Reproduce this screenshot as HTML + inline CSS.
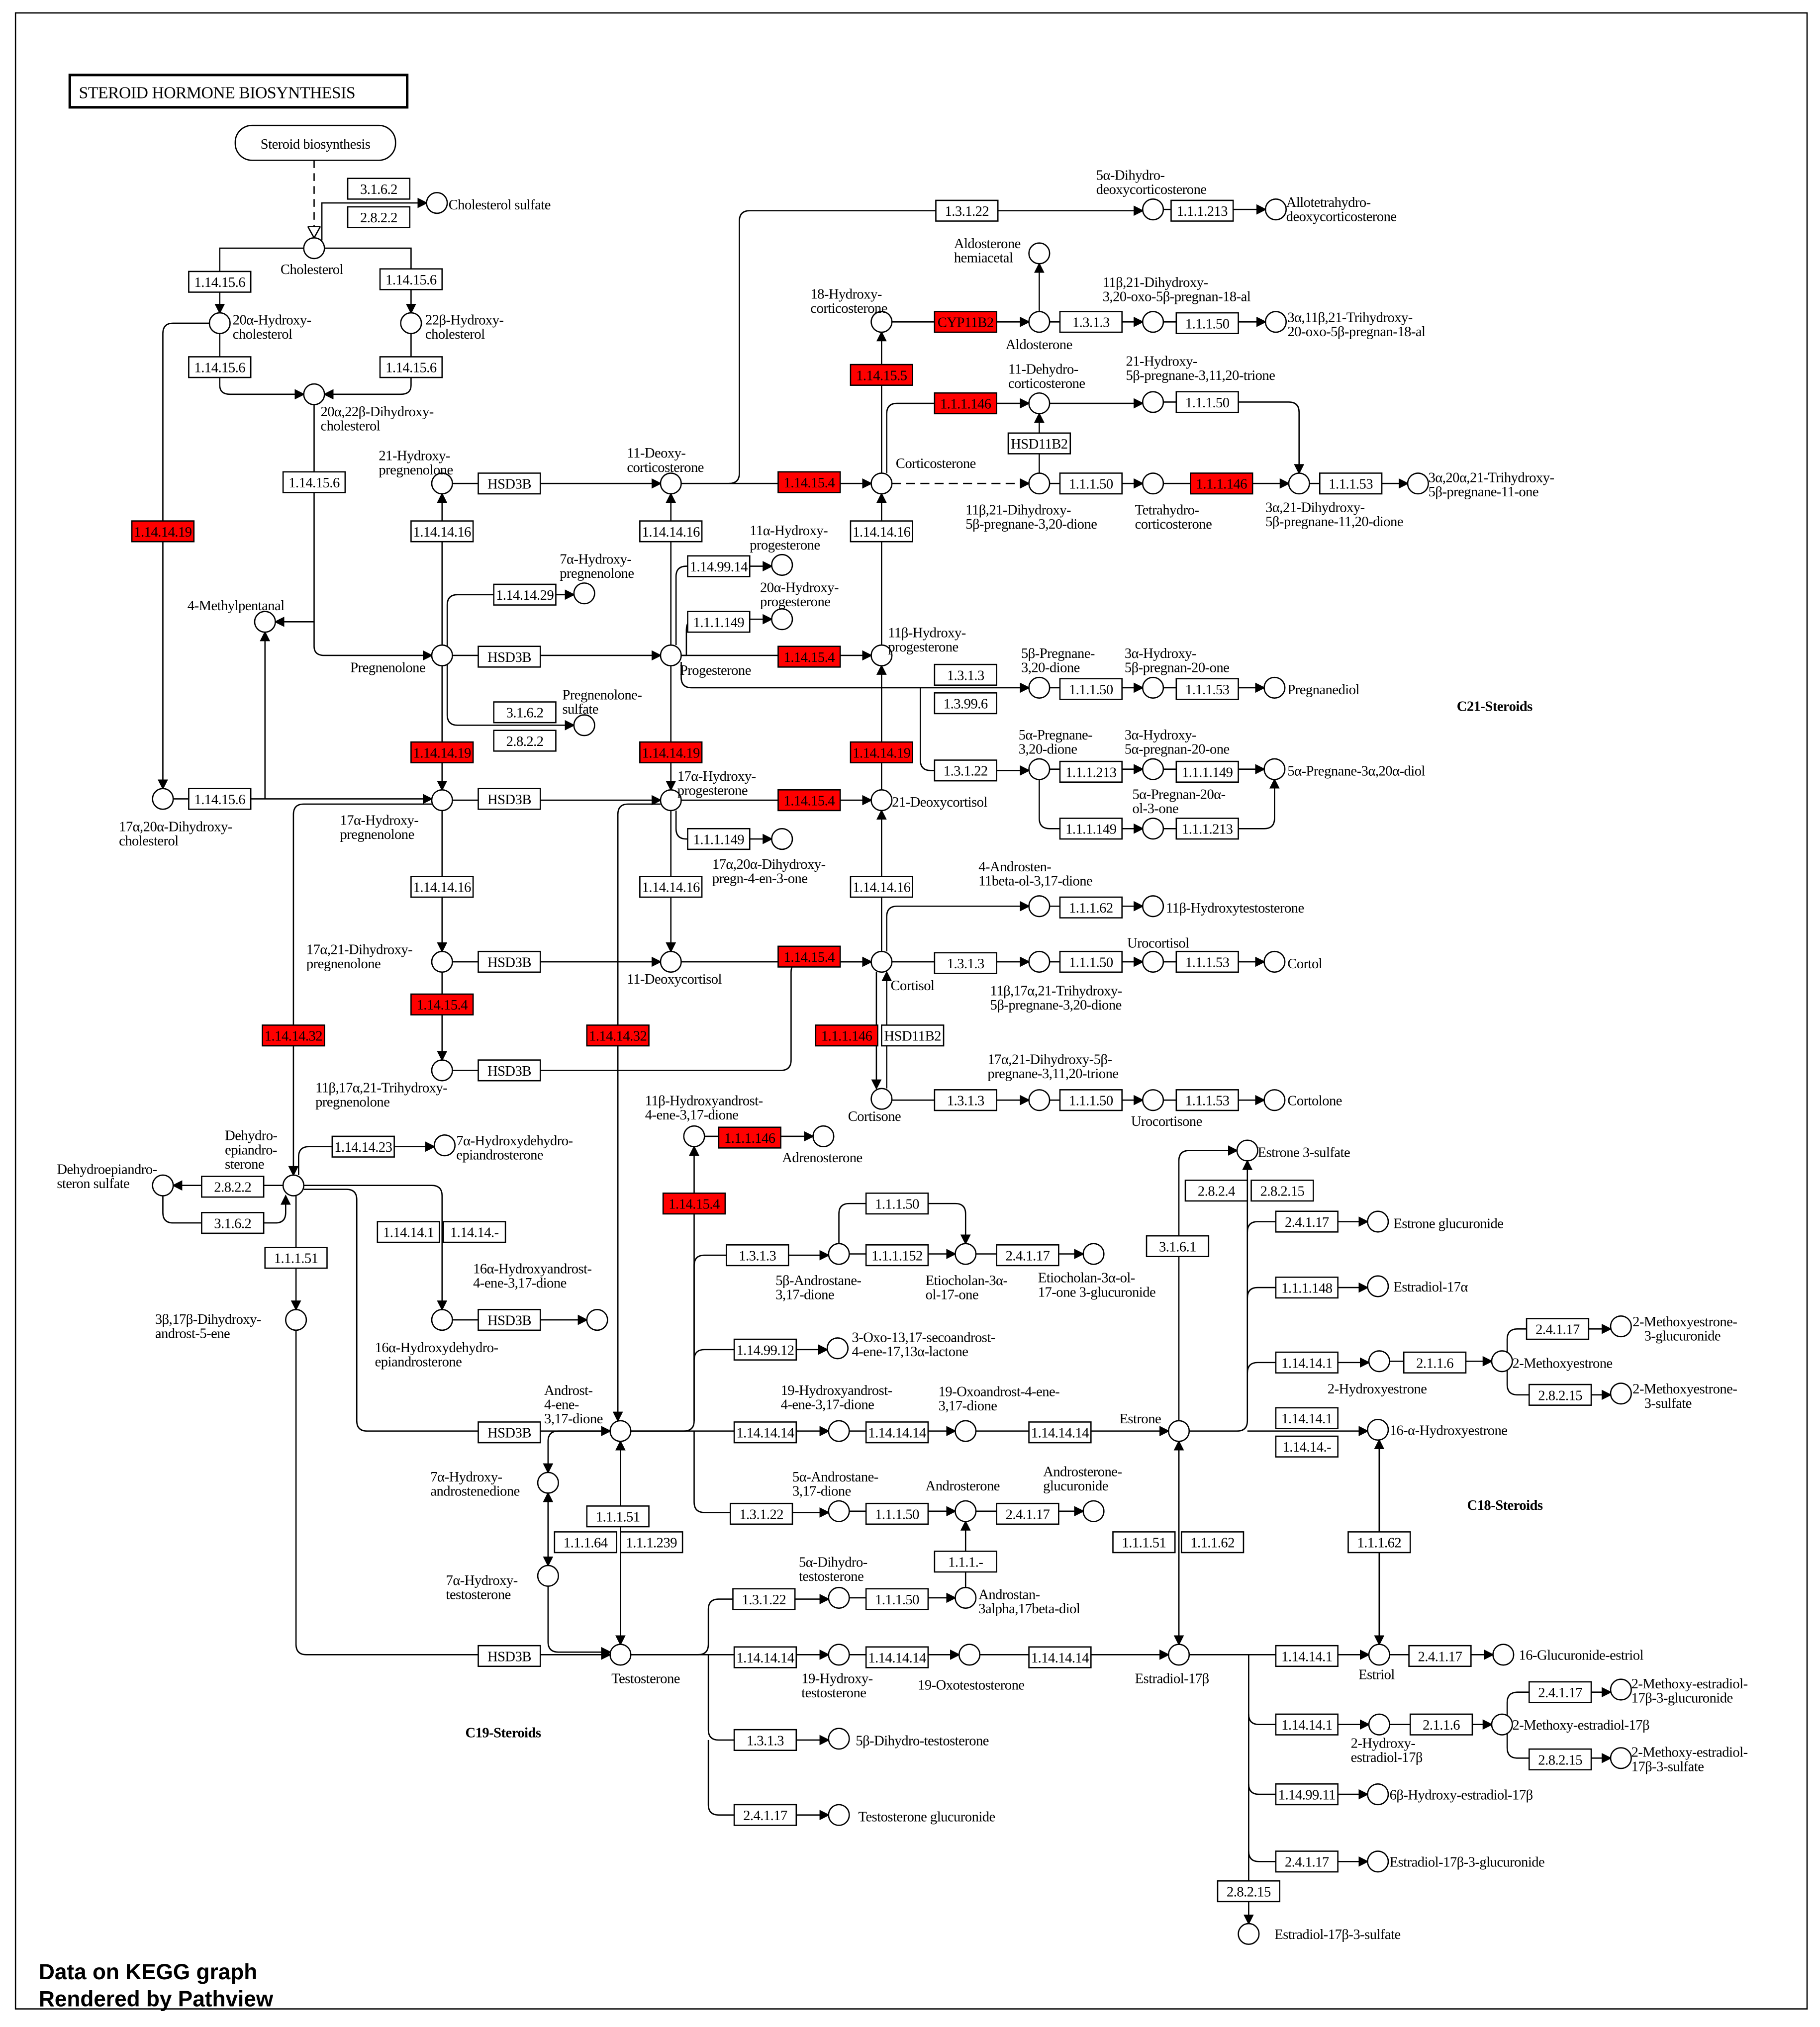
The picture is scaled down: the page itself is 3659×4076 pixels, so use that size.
<!DOCTYPE html>
<html><head><meta charset="utf-8"><style>
html,body{margin:0;padding:0;background:#fff}
svg{display:block}
text{font-family:"Liberation Serif",serif;font-size:11px;fill:#000;letter-spacing:-0.2px}
.bx rect{fill:#fff;stroke:#000;stroke-width:1}
.bx text{text-anchor:middle;font-size:11px}
.rd rect{fill:#f00}
circle{fill:#fff;stroke:#000;stroke-width:1}
path,line{fill:none;stroke:#000;stroke-width:1}
.b{font-weight:bold;font-size:11px}
</style></head><body>
<svg width="3659" height="4076" viewBox="0 0 1408 1568" preserveAspectRatio="none" xmlns="http://www.w3.org/2000/svg">
<defs>
<marker id="a" markerWidth="8" markerHeight="8" refX="7" refY="4" orient="auto" markerUnits="userSpaceOnUse"><path d="M0,0 L8,4 L0,8 z" style="fill:#000;stroke:none"/></marker>
<marker id="h" markerWidth="10" markerHeight="10" refX="9" refY="5" orient="auto" markerUnits="userSpaceOnUse"><path d="M0,0 L9,5 L0,10 z" style="fill:#fff;stroke:#000"/></marker>
</defs>
<rect x="0" y="0" width="1408" height="1568" fill="#fff"/>
<rect x="12" y="10" width="1386" height="1544" fill="none" stroke="#000"/>
<rect x="54" y="58" width="261" height="25" fill="#fff" stroke="#000" stroke-width="2"/>
<text x="61" y="76" style="font-size:13px">STEROID  HORMONE BIOSYNTHESIS</text>
<rect x="182" y="97" width="124" height="27" rx="13" fill="#fff" stroke="#000"/>
<text x="244" y="115" text-anchor="middle">Steroid biosynthesis</text>

<g marker-end="url(#a)">
<path d="M243 124 V184" stroke-dasharray="6,4" marker-end="url(#h)"/>
<path d="M249 186 V157 H330"/>
<path d="M235 192 H170 V242"/>
<path d="M251 192 H318 V242"/>
<path d="M170 258 V298 Q170 305 178 305 H235"/>
<path d="M318 258 V298 Q318 305 310 305 H251"/>
<path d="M243 313 V500 Q243 507 251 507 H334"/>
<path d="M243 481 H213"/>
<path d="M162 250 H134 Q126 250 126 258 V610"/>
<path d="M134 618 H334"/>
<path d="M205 618 V489"/>
<path d="M342 499 V382"/>
<path d="M350 507 H511"/>
<path d="M350 374 H511"/>
<path d="M346 500 V468 Q346 460 354 460 H444"/>
<path d="M346 514 V553 Q346 561 354 561 H444"/>
<path d="M342 515 V611"/>
<path d="M350 619 H511"/>
<path d="M342 627 V736"/>
<path d="M350 744 H511"/>
<path d="M342 752 V820"/>
<path d="M350 828 H604 Q612 828 612 820 V752 Q612 744 620 744 H674"/>
<path d="M519 499 V382"/>
<path d="M527 374 H674"/>
<path d="M564 374 Q572 374 572 366 V171 Q572 163 580 163 H884"/>
<path d="M900 162 H979"/>
<path d="M523 499 V446 Q523 438 531 438 H597"/>
<path d="M527 507 H531 V487 Q531 479 539 479 H597"/>
<path d="M527 507 H674"/>
<path d="M527 512 V524 Q527 532 535 532 H796"/>
<path d="M712 532 V588 Q712 596 720 596 H796"/>
<path d="M519 515 V611"/>
<path d="M527 619 H674"/>
<path d="M523 627 V641 Q523 649 531 649 H597"/>
<path d="M519 627 V736"/>
<path d="M527 744 H674"/>
<path d="M511 622 H486 Q478 622 478 630 V1099"/>
<path d="M334 622 H235 Q227 622 227 630 V909"/>
<path d="M682 366 V257"/>
<path d="M690 249 H796"/>
<path d="M804 241 V204"/>
<path d="M812 249 H884"/>
<path d="M900 249 H979"/>
<path d="M686 366 V320 Q686 312 694 312 H796"/>
<path d="M804 366 V320"/>
<path d="M812 312 H884"/>
<path d="M900 311 H997 Q1005 311 1005 319 V366"/>
<path d="M690 374 H796" stroke-dasharray="7,4"/>
<path d="M812 374 H884"/>
<path d="M900 374 H997"/>
<path d="M1013 374 H1089"/>
<path d="M682 499 V382"/>
<path d="M682 611 V515"/>
<path d="M682 736 V627"/>
<path d="M812 532 H884"/>
<path d="M900 532 H978"/>
<path d="M812 595 H884"/>
<path d="M900 595 H978"/>
<path d="M804 603 V633 Q804 641 812 641 H884"/>
<path d="M900 641 H978 Q986 641 986 633 V603"/>
<path d="M686 736 V709 Q686 701 694 701 H796"/>
<path d="M812 701 H884"/>
<path d="M690 744 H796"/>
<path d="M812 744 H884"/>
<path d="M900 744 H978"/>
<path d="M678 752 V842"/>
<path d="M686 842 V752"/>
<path d="M690 851 H796"/>
<path d="M812 851 H884"/>
<path d="M900 851 H978"/>
<path d="M219 917 H134"/>
<path d="M126 925 V938 Q126 946 134 946 H213 Q221 946 221 938 V925"/>
<path d="M231 909 V895 Q231 887 239 887 H336"/>
<path d="M235 917 H334 Q342 917 342 925 V1013"/>
<path d="M229 925 V1013"/>
<path d="M229 1029 V1272 Q229 1280 237 1280 H472"/>
<path d="M235 920 H268 Q276 920 276 928 V1099 Q276 1107 284 1107 H472"/>
<path d="M350 1021 H454"/>
<path d="M488 1107 H529 Q537 1107 537 1099 V887"/>
<path d="M545 879 H629"/>
<path d="M488 1107 H641"/>
<path d="M537 1099 V979 Q537 971 545 971 H641"/>
<path d="M537 1052 Q537 1044 545 1044 H640"/>
<path d="M537 1107 V1162 Q537 1170 545 1170 H641"/>
<path d="M657 970 H739"/>
<path d="M649 962 V939 Q649 931 657 931 H739 Q747 931 747 939 V962"/>
<path d="M755 970 H838"/>
<path d="M657 1107 H739"/>
<path d="M755 1107 H904"/>
<path d="M657 1169 H739"/>
<path d="M755 1169 H838"/>
<path d="M747 1228 V1177"/>
<path d="M472 1107 H432 Q424 1107 424 1115 V1139"/>
<path d="M424 1155 V1211"/>
<path d="M424 1211 V1155"/>
<path d="M424 1227 V1270 Q424 1278 432 1278 H472"/>
<path d="M480 1115 V1272"/>
<path d="M480 1272 V1115"/>
<path d="M488 1280 H540 Q548 1280 548 1272 V1245 Q548 1237 556 1237 H641"/>
<path d="M488 1280 H641"/>
<path d="M548 1280 V1338 Q548 1346 556 1346 H641"/>
<path d="M548 1346 V1396 Q548 1404 556 1404 H641"/>
<path d="M657 1236 H739"/>
<path d="M657 1280 H742"/>
<path d="M758 1280 H904"/>
<path d="M912 1115 V1272"/>
<path d="M912 1272 V1115"/>
<path d="M912 1099 V898 Q912 890 920 890 H957"/>
<path d="M920 1107 H957 Q965 1107 965 1099 V898"/>
<path d="M965 953 Q965 945 973 945 H1058"/>
<path d="M965 1004 Q965 996 973 996 H1058"/>
<path d="M965 1062 Q965 1054 973 1054 H1059"/>
<path d="M1075 1053 H1154"/>
<path d="M1166 1046 V1036 Q1166 1028 1174 1028 H1246"/>
<path d="M1166 1060 V1071 Q1166 1079 1174 1079 H1246"/>
<path d="M965 1107 H1058"/>
<path d="M1067 1114 V1272"/>
<path d="M1067 1272 V1114"/>
<path d="M920 1280 H1059"/>
<path d="M1075 1280 H1155"/>
<path d="M966 1280 V1488"/>
<path d="M966 1326 Q966 1334 974 1334 H1059"/>
<path d="M966 1380 Q966 1388 974 1388 H1058"/>
<path d="M966 1432 Q966 1440 974 1440 H1058"/>
<path d="M1075 1334 H1154"/>
<path d="M1166 1327 V1317 Q1166 1309 1174 1309 H1246"/>
<path d="M1166 1341 V1352 Q1166 1360 1174 1360 H1246"/>
</g>

<g>
<circle cx="243" cy="192" r="8"/><circle cx="338" cy="157" r="8"/><circle cx="170" cy="250" r="8"/><circle cx="318" cy="250" r="8"/><circle cx="243" cy="305" r="8"/>
<circle cx="205" cy="481" r="8"/><circle cx="342" cy="507" r="8"/><circle cx="342" cy="374" r="8"/><circle cx="519" cy="374" r="8"/><circle cx="682" cy="374" r="8"/>
<circle cx="452" cy="459" r="8"/><circle cx="605" cy="437" r="8"/><circle cx="605" cy="479" r="8"/><circle cx="519" cy="507" r="8"/><circle cx="682" cy="507" r="8"/>
<circle cx="452" cy="561" r="8"/><circle cx="342" cy="619" r="8"/><circle cx="519" cy="619" r="8"/><circle cx="682" cy="619" r="8"/><circle cx="605" cy="649" r="8"/>
<circle cx="126" cy="618" r="8"/><circle cx="342" cy="744" r="8"/><circle cx="519" cy="744" r="8"/><circle cx="682" cy="744" r="8"/><circle cx="342" cy="828" r="8"/>
<circle cx="682" cy="850" r="8"/><circle cx="804" cy="851" r="8"/><circle cx="892" cy="851" r="8"/><circle cx="986" cy="851" r="8"/>
<circle cx="804" cy="744" r="8"/><circle cx="892" cy="744" r="8"/><circle cx="986" cy="744" r="8"/><circle cx="804" cy="701" r="8"/><circle cx="892" cy="701" r="8"/>
<circle cx="892" cy="162" r="8"/><circle cx="987" cy="162" r="8"/><circle cx="804" cy="249" r="8"/><circle cx="892" cy="249" r="8"/><circle cx="987" cy="249" r="8"/>
<circle cx="804" cy="196" r="8"/><circle cx="682" cy="249" r="8"/><circle cx="804" cy="312" r="8"/><circle cx="892" cy="311" r="8"/>
<circle cx="804" cy="374" r="8"/><circle cx="892" cy="374" r="8"/><circle cx="1005" cy="374" r="8"/><circle cx="1097" cy="374" r="8"/>
<circle cx="804" cy="532" r="8"/><circle cx="892" cy="532" r="8"/><circle cx="986" cy="532" r="8"/><circle cx="804" cy="595" r="8"/><circle cx="892" cy="595" r="8"/><circle cx="986" cy="595" r="8"/><circle cx="892" cy="641" r="8"/>
<circle cx="227" cy="917" r="8"/><circle cx="126" cy="917" r="8"/><circle cx="344" cy="886" r="8"/><circle cx="342" cy="1021" r="8"/><circle cx="462" cy="1021" r="8"/><circle cx="229" cy="1021" r="8"/>
<circle cx="537" cy="879" r="8"/><circle cx="637" cy="879" r="8"/><circle cx="480" cy="1107" r="8"/>
<circle cx="649" cy="970" r="8"/><circle cx="747" cy="970" r="8"/><circle cx="846" cy="970" r="8"/><circle cx="648" cy="1043" r="8"/>
<circle cx="649" cy="1107" r="8"/><circle cx="747" cy="1107" r="8"/><circle cx="912" cy="1107" r="8"/>
<circle cx="649" cy="1169" r="8"/><circle cx="747" cy="1169" r="8"/><circle cx="846" cy="1169" r="8"/><circle cx="747" cy="1236" r="8"/>
<circle cx="424" cy="1147" r="8"/><circle cx="424" cy="1219" r="8"/><circle cx="480" cy="1280" r="8"/>
<circle cx="649" cy="1236" r="8"/><circle cx="649" cy="1280" r="8"/><circle cx="750" cy="1280" r="8"/><circle cx="912" cy="1280" r="8"/>
<circle cx="649" cy="1345" r="8"/><circle cx="649" cy="1404" r="8"/>
<circle cx="965" cy="890" r="8"/><circle cx="1066" cy="945" r="8"/><circle cx="1066" cy="995" r="8"/><circle cx="1067" cy="1053" r="8"/><circle cx="1162" cy="1053" r="8"/>
<circle cx="1254" cy="1026" r="8"/><circle cx="1254" cy="1078" r="8"/><circle cx="1066" cy="1106" r="8"/>
<circle cx="1067" cy="1280" r="8"/><circle cx="1163" cy="1280" r="8"/><circle cx="1067" cy="1334" r="8"/><circle cx="1162" cy="1334" r="8"/>
<circle cx="1254" cy="1307" r="8"/><circle cx="1254" cy="1360" r="8"/><circle cx="1066" cy="1388" r="8"/><circle cx="1066" cy="1440" r="8"/><circle cx="966" cy="1496" r="8"/>
</g>

<g class="bx">
<g transform="translate(293,146)"><rect x="-24" y="-8" width="48" height="16"/><text y="4">3.1.6.2</text></g>
<g transform="translate(293,168)"><rect x="-24" y="-8" width="48" height="16"/><text y="4">2.8.2.2</text></g>
<g transform="translate(170,218)"><rect x="-24" y="-8" width="48" height="16"/><text y="4">1.14.15.6</text></g>
<g transform="translate(318,216)"><rect x="-24" y="-8" width="48" height="16"/><text y="4">1.14.15.6</text></g>
<g transform="translate(170,284)"><rect x="-24" y="-8" width="48" height="16"/><text y="4">1.14.15.6</text></g>
<g transform="translate(318,284)"><rect x="-24" y="-8" width="48" height="16"/><text y="4">1.14.15.6</text></g>
<g transform="translate(243,373)"><rect x="-24" y="-8" width="48" height="16"/><text y="4">1.14.15.6</text></g>
<g transform="translate(126,411)" class="rd"><rect x="-24" y="-8" width="48" height="16"/><text y="4">1.14.14.19</text></g>
<g transform="translate(170,618)"><rect x="-24" y="-8" width="48" height="16"/><text y="4">1.14.15.6</text></g>
<g transform="translate(394,374)"><rect x="-24" y="-8" width="48" height="16"/><text y="4">HSD3B</text></g>
<g transform="translate(394,508)"><rect x="-24" y="-8" width="48" height="16"/><text y="4">HSD3B</text></g>
<g transform="translate(394,618)"><rect x="-24" y="-8" width="48" height="16"/><text y="4">HSD3B</text></g>
<g transform="translate(394,744)"><rect x="-24" y="-8" width="48" height="16"/><text y="4">HSD3B</text></g>
<g transform="translate(394,828)"><rect x="-24" y="-8" width="48" height="16"/><text y="4">HSD3B</text></g>
<g transform="translate(626,373)" class="rd"><rect x="-24" y="-8" width="48" height="16"/><text y="4">1.14.15.4</text></g>
<g transform="translate(342,411)"><rect x="-24" y="-8" width="48" height="16"/><text y="4">1.14.14.16</text></g>
<g transform="translate(519,411)"><rect x="-24" y="-8" width="48" height="16"/><text y="4">1.14.14.16</text></g>
<g transform="translate(682,411)"><rect x="-24" y="-8" width="48" height="16"/><text y="4">1.14.14.16</text></g>
<g transform="translate(342,686)"><rect x="-24" y="-8" width="48" height="16"/><text y="4">1.14.14.16</text></g>
<g transform="translate(519,686)"><rect x="-24" y="-8" width="48" height="16"/><text y="4">1.14.14.16</text></g>
<g transform="translate(682,686)"><rect x="-24" y="-8" width="48" height="16"/><text y="4">1.14.14.16</text></g>
<g transform="translate(406,460)"><rect x="-24" y="-8" width="48" height="16"/><text y="4">1.14.14.29</text></g>
<g transform="translate(556,438)"><rect x="-24" y="-8" width="48" height="16"/><text y="4">1.14.99.14</text></g>
<g transform="translate(556,481)"><rect x="-24" y="-8" width="48" height="16"/><text y="4">1.1.1.149</text></g>
<g transform="translate(626,508)" class="rd"><rect x="-24" y="-8" width="48" height="16"/><text y="4">1.14.15.4</text></g>
<g transform="translate(406,551)"><rect x="-24" y="-8" width="48" height="16"/><text y="4">3.1.6.2</text></g>
<g transform="translate(406,573)"><rect x="-24" y="-8" width="48" height="16"/><text y="4">2.8.2.2</text></g>
<g transform="translate(342,582)" class="rd"><rect x="-24" y="-8" width="48" height="16"/><text y="4">1.14.14.19</text></g>
<g transform="translate(519,582)" class="rd"><rect x="-24" y="-8" width="48" height="16"/><text y="4">1.14.14.19</text></g>
<g transform="translate(682,582)" class="rd"><rect x="-24" y="-8" width="48" height="16"/><text y="4">1.14.14.19</text></g>
<g transform="translate(626,619)" class="rd"><rect x="-24" y="-8" width="48" height="16"/><text y="4">1.14.15.4</text></g>
<g transform="translate(556,649)"><rect x="-24" y="-8" width="48" height="16"/><text y="4">1.1.1.149</text></g>
<g transform="translate(626,740)" class="rd"><rect x="-24" y="-8" width="48" height="16"/><text y="4">1.14.15.4</text></g>
<g transform="translate(342,777)" class="rd"><rect x="-24" y="-8" width="48" height="16"/><text y="4">1.14.15.4</text></g>
<g transform="translate(227,801)" class="rd"><rect x="-24" y="-8" width="48" height="16"/><text y="4">1.14.14.32</text></g>
<g transform="translate(478,801)" class="rd"><rect x="-24" y="-8" width="48" height="16"/><text y="4">1.14.14.32</text></g>
<g transform="translate(655,801)" class="rd"><rect x="-24" y="-8" width="48" height="16"/><text y="4">1.1.1.146</text></g>
<g transform="translate(706,801)"><rect x="-24" y="-8" width="48" height="16"/><text y="4">HSD11B2</text></g>
<g transform="translate(747,851)"><rect x="-24" y="-8" width="48" height="16"/><text y="4">1.3.1.3</text></g>
<g transform="translate(844,851)"><rect x="-24" y="-8" width="48" height="16"/><text y="4">1.1.1.50</text></g>
<g transform="translate(934,851)"><rect x="-24" y="-8" width="48" height="16"/><text y="4">1.1.1.53</text></g>
<g transform="translate(747,745)"><rect x="-24" y="-8" width="48" height="16"/><text y="4">1.3.1.3</text></g>
<g transform="translate(844,744)"><rect x="-24" y="-8" width="48" height="16"/><text y="4">1.1.1.50</text></g>
<g transform="translate(934,744)"><rect x="-24" y="-8" width="48" height="16"/><text y="4">1.1.1.53</text></g>
<g transform="translate(844,702)"><rect x="-24" y="-8" width="48" height="16"/><text y="4">1.1.1.62</text></g>
<g transform="translate(748,163)"><rect x="-24" y="-8" width="48" height="16"/><text y="4">1.3.1.22</text></g>
<g transform="translate(930,163)"><rect x="-24" y="-8" width="48" height="16"/><text y="4">1.1.1.213</text></g>
<g transform="translate(747,249)" class="rd"><rect x="-24" y="-8" width="48" height="16"/><text y="4">CYP11B2</text></g>
<g transform="translate(844,249)"><rect x="-24" y="-8" width="48" height="16"/><text y="4">1.3.1.3</text></g>
<g transform="translate(934,250)"><rect x="-24" y="-8" width="48" height="16"/><text y="4">1.1.1.50</text></g>
<g transform="translate(682,290)" class="rd"><rect x="-24" y="-8" width="48" height="16"/><text y="4">1.14.15.5</text></g>
<g transform="translate(747,312)" class="rd"><rect x="-24" y="-8" width="48" height="16"/><text y="4">1.1.1.146</text></g>
<g transform="translate(804,343)"><rect x="-24" y="-8" width="48" height="16"/><text y="4">HSD11B2</text></g>
<g transform="translate(934,311)"><rect x="-24" y="-8" width="48" height="16"/><text y="4">1.1.1.50</text></g>
<g transform="translate(844,374)"><rect x="-24" y="-8" width="48" height="16"/><text y="4">1.1.1.50</text></g>
<g transform="translate(945,374)" class="rd"><rect x="-24" y="-8" width="48" height="16"/><text y="4">1.1.1.146</text></g>
<g transform="translate(1045,374)"><rect x="-24" y="-8" width="48" height="16"/><text y="4">1.1.1.53</text></g>
<g transform="translate(747,522)"><rect x="-24" y="-8" width="48" height="16"/><text y="4">1.3.1.3</text></g>
<g transform="translate(747,544)"><rect x="-24" y="-8" width="48" height="16"/><text y="4">1.3.99.6</text></g>
<g transform="translate(844,533)"><rect x="-24" y="-8" width="48" height="16"/><text y="4">1.1.1.50</text></g>
<g transform="translate(934,533)"><rect x="-24" y="-8" width="48" height="16"/><text y="4">1.1.1.53</text></g>
<g transform="translate(747,596)"><rect x="-24" y="-8" width="48" height="16"/><text y="4">1.3.1.22</text></g>
<g transform="translate(844,597)"><rect x="-24" y="-8" width="48" height="16"/><text y="4">1.1.1.213</text></g>
<g transform="translate(934,597)"><rect x="-24" y="-8" width="48" height="16"/><text y="4">1.1.1.149</text></g>
<g transform="translate(844,641)"><rect x="-24" y="-8" width="48" height="16"/><text y="4">1.1.1.149</text></g>
<g transform="translate(934,641)"><rect x="-24" y="-8" width="48" height="16"/><text y="4">1.1.1.213</text></g>
<g transform="translate(180,918)"><rect x="-24" y="-8" width="48" height="16"/><text y="4">2.8.2.2</text></g>
<g transform="translate(180,946)"><rect x="-24" y="-8" width="48" height="16"/><text y="4">3.1.6.2</text></g>
<g transform="translate(281,887)"><rect x="-24" y="-8" width="48" height="16"/><text y="4">1.14.14.23</text></g>
<g transform="translate(316,953)"><rect x="-24" y="-8" width="48" height="16"/><text y="4">1.14.14.1</text></g>
<g transform="translate(367,953)"><rect x="-24" y="-8" width="48" height="16"/><text y="4">1.14.14.-</text></g>
<g transform="translate(394,1021)"><rect x="-24" y="-8" width="48" height="16"/><text y="4">HSD3B</text></g>
<g transform="translate(229,973)"><rect x="-24" y="-8" width="48" height="16"/><text y="4">1.1.1.51</text></g>
<g transform="translate(580,880)" class="rd"><rect x="-24" y="-8" width="48" height="16"/><text y="4">1.1.1.146</text></g>
<g transform="translate(537,931)" class="rd"><rect x="-24" y="-8" width="48" height="16"/><text y="4">1.14.15.4</text></g>
<g transform="translate(394,1108)"><rect x="-24" y="-8" width="48" height="16"/><text y="4">HSD3B</text></g>
<g transform="translate(586,971)"><rect x="-24" y="-8" width="48" height="16"/><text y="4">1.3.1.3</text></g>
<g transform="translate(694,931)"><rect x="-24" y="-8" width="48" height="16"/><text y="4">1.1.1.50</text></g>
<g transform="translate(694,971)"><rect x="-24" y="-8" width="48" height="16"/><text y="4">1.1.1.152</text></g>
<g transform="translate(795,971)"><rect x="-24" y="-8" width="48" height="16"/><text y="4">2.4.1.17</text></g>
<g transform="translate(592,1044)"><rect x="-24" y="-8" width="48" height="16"/><text y="4">1.14.99.12</text></g>
<g transform="translate(592,1108)"><rect x="-24" y="-8" width="48" height="16"/><text y="4">1.14.14.14</text></g>
<g transform="translate(694,1108)"><rect x="-24" y="-8" width="48" height="16"/><text y="4">1.14.14.14</text></g>
<g transform="translate(820,1108)"><rect x="-24" y="-8" width="48" height="16"/><text y="4">1.14.14.14</text></g>
<g transform="translate(589,1171)"><rect x="-24" y="-8" width="48" height="16"/><text y="4">1.3.1.22</text></g>
<g transform="translate(694,1171)"><rect x="-24" y="-8" width="48" height="16"/><text y="4">1.1.1.50</text></g>
<g transform="translate(795,1171)"><rect x="-24" y="-8" width="48" height="16"/><text y="4">2.4.1.17</text></g>
<g transform="translate(747,1208)"><rect x="-24" y="-8" width="48" height="16"/><text y="4">1.1.1.-</text></g>
<g transform="translate(478,1173)"><rect x="-24" y="-8" width="48" height="16"/><text y="4">1.1.1.51</text></g>
<g transform="translate(453,1193)"><rect x="-24" y="-8" width="48" height="16"/><text y="4">1.1.1.64</text></g>
<g transform="translate(504,1193)"><rect x="-24" y="-8" width="48" height="16"/><text y="4">1.1.1.239</text></g>
<g transform="translate(394,1281)"><rect x="-24" y="-8" width="48" height="16"/><text y="4">HSD3B</text></g>
<g transform="translate(591,1237)"><rect x="-24" y="-8" width="48" height="16"/><text y="4">1.3.1.22</text></g>
<g transform="translate(694,1237)"><rect x="-24" y="-8" width="48" height="16"/><text y="4">1.1.1.50</text></g>
<g transform="translate(592,1282)"><rect x="-24" y="-8" width="48" height="16"/><text y="4">1.14.14.14</text></g>
<g transform="translate(694,1282)"><rect x="-24" y="-8" width="48" height="16"/><text y="4">1.14.14.14</text></g>
<g transform="translate(820,1282)"><rect x="-24" y="-8" width="48" height="16"/><text y="4">1.14.14.14</text></g>
<g transform="translate(592,1346)"><rect x="-24" y="-8" width="48" height="16"/><text y="4">1.3.1.3</text></g>
<g transform="translate(592,1404)"><rect x="-24" y="-8" width="48" height="16"/><text y="4">2.4.1.17</text></g>
<g transform="translate(941,921)"><rect x="-24" y="-8" width="48" height="16"/><text y="4">2.8.2.4</text></g>
<g transform="translate(992,921)"><rect x="-24" y="-8" width="48" height="16"/><text y="4">2.8.2.15</text></g>
<g transform="translate(911,964)"><rect x="-24" y="-8" width="48" height="16"/><text y="4">3.1.6.1</text></g>
<g transform="translate(1011,945)"><rect x="-24" y="-8" width="48" height="16"/><text y="4">2.4.1.17</text></g>
<g transform="translate(1011,996)"><rect x="-24" y="-8" width="48" height="16"/><text y="4">1.1.1.148</text></g>
<g transform="translate(1011,1054)"><rect x="-24" y="-8" width="48" height="16"/><text y="4">1.14.14.1</text></g>
<g transform="translate(1110,1054)"><rect x="-24" y="-8" width="48" height="16"/><text y="4">2.1.1.6</text></g>
<g transform="translate(1205,1028)"><rect x="-24" y="-8" width="48" height="16"/><text y="4">2.4.1.17</text></g>
<g transform="translate(1207,1079)"><rect x="-24" y="-8" width="48" height="16"/><text y="4">2.8.2.15</text></g>
<g transform="translate(1011,1097)"><rect x="-24" y="-8" width="48" height="16"/><text y="4">1.14.14.1</text></g>
<g transform="translate(1011,1119)"><rect x="-24" y="-8" width="48" height="16"/><text y="4">1.14.14.-</text></g>
<g transform="translate(885,1193)"><rect x="-24" y="-8" width="48" height="16"/><text y="4">1.1.1.51</text></g>
<g transform="translate(938,1193)"><rect x="-24" y="-8" width="48" height="16"/><text y="4">1.1.1.62</text></g>
<g transform="translate(1067,1193)"><rect x="-24" y="-8" width="48" height="16"/><text y="4">1.1.1.62</text></g>
<g transform="translate(1011,1281)"><rect x="-24" y="-8" width="48" height="16"/><text y="4">1.14.14.1</text></g>
<g transform="translate(1114,1281)"><rect x="-24" y="-8" width="48" height="16"/><text y="4">2.4.1.17</text></g>
<g transform="translate(1011,1334)"><rect x="-24" y="-8" width="48" height="16"/><text y="4">1.14.14.1</text></g>
<g transform="translate(1115,1334)"><rect x="-24" y="-8" width="48" height="16"/><text y="4">2.1.1.6</text></g>
<g transform="translate(1207,1309)"><rect x="-24" y="-8" width="48" height="16"/><text y="4">2.4.1.17</text></g>
<g transform="translate(1207,1361)"><rect x="-24" y="-8" width="48" height="16"/><text y="4">2.8.2.15</text></g>
<g transform="translate(1011,1388)"><rect x="-24" y="-8" width="48" height="16"/><text y="4">1.14.99.11</text></g>
<g transform="translate(1011,1440)"><rect x="-24" y="-8" width="48" height="16"/><text y="4">2.4.1.17</text></g>
<g transform="translate(966,1463)"><rect x="-24" y="-8" width="48" height="16"/><text y="4">2.8.2.15</text></g>
</g>

<g>
<text x="217" y="212">Cholesterol</text>
<text x="347" y="162">Cholesterol sulfate</text>
<text x="180" y="251">20α-Hydroxy-</text><text x="180" y="262">cholesterol</text>
<text x="329" y="251">22β-Hydroxy-</text><text x="329" y="262">cholesterol</text>
<text x="248" y="322">20α,22β-Dihydroxy-</text><text x="248" y="333">cholesterol</text>
<text x="293" y="356">21-Hydroxy-</text><text x="293" y="367">pregnenolone</text>
<text x="485" y="354">11-Deoxy-</text><text x="485" y="365">corticosterone</text>
<text x="627" y="231">18-Hydroxy-</text><text x="627" y="242">corticosterone</text>
<text x="738" y="192">Aldosterone</text><text x="738" y="203">hemiacetal</text>
<text x="778" y="270">Aldosterone</text>
<text x="853" y="222">11β,21-Dihydroxy-</text><text x="853" y="233">3,20-oxo-5β-pregnan-18-al</text>
<text x="996" y="249">3α,11β,21-Trihydroxy-</text><text x="996" y="260">20-oxo-5β-pregnan-18-al</text>
<text x="848" y="139">5α-Dihydro-</text><text x="848" y="150">deoxycorticosterone</text>
<text x="995" y="160">Allotetrahydro-</text><text x="995" y="171">deoxycorticosterone</text>
<text x="780" y="289">11-Dehydro-</text><text x="780" y="300">corticosterone</text>
<text x="871" y="283">21-Hydroxy-</text><text x="871" y="294">5β-pregnane-3,11,20-trione</text>
<text x="693" y="362">Corticosterone</text>
<text x="747" y="398">11β,21-Dihydroxy-</text><text x="747" y="409">5β-pregnane-3,20-dione</text>
<text x="878" y="398">Tetrahydro-</text><text x="878" y="409">corticosterone</text>
<text x="979" y="396">3α,21-Dihydroxy-</text><text x="979" y="407">5β-pregnane-11,20-dione</text>
<text x="1105" y="373">3α,20α,21-Trihydroxy-</text><text x="1105" y="384">5β-pregnane-11-one</text>
<text x="145" y="472">4-Methylpentanal</text>
<text x="271" y="520">Pregnenolone</text>
<text x="433" y="436">7α-Hydroxy-</text><text x="433" y="447">pregnenolone</text>
<text x="580" y="414">11α-Hydroxy-</text><text x="580" y="425">progesterone</text>
<text x="588" y="458">20α-Hydroxy-</text><text x="588" y="469">progesterone</text>
<text x="526" y="522">Progesterone</text>
<text x="687" y="493">11β-Hydroxy-</text><text x="687" y="504">progesterone</text>
<text x="435" y="541">Pregnenolone-</text><text x="435" y="552">sulfate</text>
<text x="790" y="509">5β-Pregnane-</text><text x="790" y="520">3,20-dione</text>
<text x="870" y="509">3α-Hydroxy-</text><text x="870" y="520">5β-pregnan-20-one</text>
<text x="996" y="537">Pregnanediol</text>
<text x="1127" y="550" class="b">C21-Steroids</text>
<text x="788" y="572">5α-Pregnane-</text><text x="788" y="583">3,20-dione</text>
<text x="870" y="572">3α-Hydroxy-</text><text x="870" y="583">5α-pregnan-20-one</text>
<text x="996" y="600">5α-Pregnane-3α,20α-diol</text>
<text x="876" y="618">5α-Pregnan-20α-</text><text x="876" y="629">ol-3-one</text>
<text x="92" y="643">17α,20α-Dihydroxy-</text><text x="92" y="654">cholesterol</text>
<text x="263" y="638">17α-Hydroxy-</text><text x="263" y="649">pregnenolone</text>
<text x="524" y="604">17α-Hydroxy-</text><text x="524" y="615">progesterone</text>
<text x="690" y="624">21-Deoxycortisol</text>
<text x="551" y="672">17α,20α-Dihydroxy-</text><text x="551" y="683">pregn-4-en-3-one</text>
<text x="757" y="674">4-Androsten-</text><text x="757" y="685">11beta-ol-3,17-dione</text>
<text x="902" y="706">11β-Hydroxytestosterone</text>
<text x="237" y="738">17α,21-Dihydroxy-</text><text x="237" y="749">pregnenolone</text>
<text x="485" y="761">11-Deoxycortisol</text>
<text x="689" y="766">Cortisol</text>
<text x="872" y="733">Urocortisol</text>
<text x="996" y="749">Cortol</text>
<text x="766" y="770">11β,17α,21-Trihydroxy-</text><text x="766" y="781">5β-pregnane-3,20-dione</text>
<text x="244" y="845">11β,17α,21-Trihydroxy-</text><text x="244" y="856">pregnenolone</text>
<text x="764" y="823">17α,21-Dihydroxy-5β-</text><text x="764" y="834">pregnane-3,11,20-trione</text>
<text x="656" y="867">Cortisone</text>
<text x="875" y="871">Urocortisone</text>
<text x="996" y="855">Cortolone</text>
<text x="499" y="855">11β-Hydroxyandrost-</text><text x="499" y="866">4-ene-3,17-dione</text>
<text x="605" y="899">Adrenosterone</text>
<text x="174" y="882">Dehydro-</text><text x="174" y="893">epiandro-</text><text x="174" y="904">sterone</text>
<text x="44" y="908">Dehydroepiandro-</text><text x="44" y="919">steron sulfate</text>
<text x="353" y="886">7α-Hydroxydehydro-</text><text x="353" y="897">epiandrosterone</text>
<text x="366" y="985">16α-Hydroxyandrost-</text><text x="366" y="996">4-ene-3,17-dione</text>
<text x="120" y="1024">3β,17β-Dihydroxy-</text><text x="120" y="1035">androst-5-ene</text>
<text x="290" y="1046">16α-Hydroxydehydro-</text><text x="290" y="1057">epiandrosterone</text>
<text x="600" y="994">5β-Androstane-</text><text x="600" y="1005">3,17-dione</text>
<text x="716" y="994">Etiocholan-3α-</text><text x="716" y="1005">ol-17-one</text>
<text x="803" y="992">Etiocholan-3α-ol-</text><text x="803" y="1003">17-one 3-glucuronide</text>
<text x="659" y="1038">3-Oxo-13,17-secoandrost-</text><text x="659" y="1049">4-ene-17,13α-lactone</text>
<text x="421" y="1079">Androst-</text><text x="421" y="1090">4-ene-</text><text x="421" y="1101">3,17-dione</text>
<text x="604" y="1079">19-Hydroxyandrost-</text><text x="604" y="1090">4-ene-3,17-dione</text>
<text x="726" y="1080">19-Oxoandrost-4-ene-</text><text x="726" y="1091">3,17-dione</text>
<text x="866" y="1101">Estrone</text>
<text x="613" y="1146">5α-Androstane-</text><text x="613" y="1157">3,17-dione</text>
<text x="716" y="1153">Androsterone</text>
<text x="807" y="1142">Androsterone-</text><text x="807" y="1153">glucuronide</text>
<text x="333" y="1146">7α-Hydroxy-</text><text x="333" y="1157">androstenedione</text>
<text x="345" y="1226">7α-Hydroxy-</text><text x="345" y="1237">testosterone</text>
<text x="618" y="1212">5α-Dihydro-</text><text x="618" y="1223">testosterone</text>
<text x="757" y="1237">Androstan-</text><text x="757" y="1248">3alpha,17beta-diol</text>
<text x="473" y="1302">Testosterone</text>
<text x="620" y="1302">19-Hydroxy-</text><text x="620" y="1313">testosterone</text>
<text x="710" y="1307">19-Oxotestosterone</text>
<text x="878" y="1302">Estradiol-17β</text>
<text x="360" y="1344" class="b">C19-Steroids</text>
<text x="662" y="1350">5β-Dihydro-testosterone</text>
<text x="664" y="1409">Testosterone glucuronide</text>
<text x="973" y="895">Estrone 3-sulfate</text>
<text x="1078" y="950">Estrone glucuronide</text>
<text x="1078" y="999">Estradiol-17α</text>
<text x="1027" y="1078">2-Hydroxyestrone</text>
<text x="1170" y="1058">2-Methoxyestrone</text>
<text x="1263" y="1026">2-Methoxyestrone-</text><text x="1272" y="1037">3-glucuronide</text>
<text x="1263" y="1078">2-Methoxyestrone-</text><text x="1272" y="1089">3-sulfate</text>
<text x="1075" y="1110">16-α-Hydroxyestrone</text>
<text x="1135" y="1168" class="b">C18-Steroids</text>
<text x="1051" y="1299">Estriol</text>
<text x="1175" y="1284">16-Glucuronide-estriol</text>
<text x="1045" y="1352">2-Hydroxy-</text><text x="1045" y="1363">estradiol-17β</text>
<text x="1170" y="1338">2-Methoxy-estradiol-17β</text>
<text x="1262" y="1306">2-Methoxy-estradiol-</text><text x="1262" y="1317">17β-3-glucuronide</text>
<text x="1262" y="1359">2-Methoxy-estradiol-</text><text x="1262" y="1370">17β-3-sulfate</text>
<text x="1075" y="1392">6β-Hydroxy-estradiol-17β</text>
<text x="1075" y="1444">Estradiol-17β-3-glucuronide</text>
<text x="986" y="1500">Estradiol-17β-3-sulfate</text>
</g>
<text x="30" y="1531" style="font-family:'Liberation Sans',sans-serif;font-size:17px;font-weight:bold;letter-spacing:0">Data on KEGG graph</text>
<text x="30" y="1552" style="font-family:'Liberation Sans',sans-serif;font-size:17px;font-weight:bold;letter-spacing:0">Rendered by Pathview</text>
</svg>
</body></html>
